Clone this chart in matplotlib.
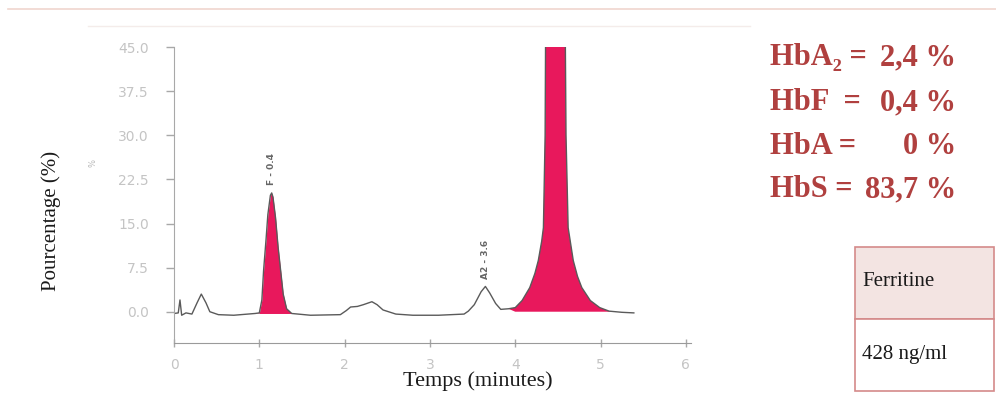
import numpy as np
import matplotlib.pyplot as plt
from matplotlib.patches import Rectangle
from matplotlib.lines import Line2D

# chromatogram trace (time in minutes, signal in %)
time_min = [0.00, 0.05, 0.07, 0.09, 0.14, 0.21, 0.27, 0.32, 0.375, 0.42, 0.52, 0.70, 0.95,
            1.00, 1.03, 1.05, 1.08, 1.10, 1.13, 1.145, 1.16, 1.19, 1.22, 1.25, 1.28, 1.32, 1.38,
            1.60, 1.95, 2.02, 2.07, 2.15, 2.22, 2.32, 2.38, 2.45, 2.60, 2.80, 3.10, 3.40,
            3.45, 3.52, 3.60, 3.65, 3.70, 3.77, 3.83, 3.92, 4.00,
            4.08, 4.17, 4.23, 4.27, 4.31, 4.33, 4.35, 4.36, 4.47, 4.58, 4.595, 4.62, 4.68,
            4.73, 4.78, 4.88, 4.99, 5.10, 5.25, 5.39]
signal_pct = [-0.3, -0.2, 2.0, -0.6, -0.2, -0.4, 1.5, 3.0, 1.5, 0.0, -0.5, -0.6, -0.3,
              -0.2, 2.0, 7.0, 12.5, 16.5, 19.8, 20.2, 19.5, 16.0, 11.0, 7.0, 3.0, 0.5, -0.3,
              -0.6, -0.5, 0.2, 0.8, 0.9, 1.2, 1.7, 1.2, 0.3, -0.4, -0.6, -0.6, -0.4,
              0.1, 1.2, 3.4, 4.3, 3.2, 1.4, 0.4, 0.5, 0.7,
              1.9, 4.1, 6.5, 8.7, 12.0, 14.3, 30.0, 60.0, 84.0, 60.0, 30.0, 14.3, 8.7,
              6.0, 4.1, 1.9, 0.7, 0.1, -0.1, -0.2]

# shaded (red) peaks: start, end, floor
red_start = [1.00, 3.95]
red_end = [1.38, 5.10]
red_floor = [-0.3, 0.0]

# peak annotations from the instrument print-out
peak_lbl = ['F - 0.4', 'A2 - 3.6']
peak_lbl_t = [1.145, 3.65]
peak_lbl_y = [21.6, 5.6]

y_ticks = [0.0, 7.5, 15.0, 22.5, 30.0, 37.5, 45.0]
x_ticks = [0, 1, 2, 3, 4, 5, 6]

hb_names = ['HbA\u2082 =', 'HbF  =', 'HbA =', 'HbS =']
hb_values = ['2,4 %', '0,4 %', '0 %', '83,7 %']

table_head = 'Ferritine'
table_val = '428 ng/ml'

W, H = 996, 393
fig = plt.figure(figsize=(W / 100, H / 100), dpi=100)
ax = fig.add_axes([174 / W, 1 - 343 / H, (691 - 174) / W, (343 - 47.1) / H])

t = np.array(time_min)
s = np.array(signal_pct)
red = '#e8185c'
for a, b, fl in zip(red_start, red_end, red_floor):
    m = (t >= a) & (t <= b)
    ax.fill_between(t, s, fl, where=m, interpolate=True, color=red, lw=0)
ax.plot(t, s, color='#5a5a5a', lw=1.0)

for lbl, lt, ly in zip(peak_lbl, peak_lbl_t, peak_lbl_y):
    ax.text(lt, ly, lbl, rotation=90, ha='center', va='bottom', fontsize=6.5,
            color='#666666', fontweight='bold')

ax.set_xlim(0, 6.06)
ax.set_ylim(-5.32, 45)
ax.set_yticks(y_ticks)
ax.set_yticklabels([f'{v:.1f}' for v in y_ticks])
ax.set_xticks(x_ticks)
ax.set_xticklabels([str(v) for v in x_ticks])
ax.spines['top'].set_visible(False)
ax.spines['right'].set_visible(False)
ax.spines['left'].set_color('#a8a8a8')
ax.spines['bottom'].set_color('#9a9a9a')
ax.tick_params(axis='y', direction='out', length=6, width=1, color='#a8a8a8',
               labelcolor='#c4c4c4', labelsize=10, pad=12)
ax.tick_params(axis='x', direction='inout', length=6, width=1, color='#a8a8a8',
               labelcolor='#c4c4c4', labelsize=10, pad=8)
ax.set_facecolor('white')

serif = ['Liberation Serif', 'DejaVu Serif']
fig.text(478 / W, 1 - 381 / H, 'Temps (minutes)', ha='center', va='center',
         fontsize=16, family=serif, color='#1a1a1a')
fig.text(51 / W, 1 - 221 / H, 'Pourcentage (%)', ha='center', va='center',
         rotation=90, fontsize=15, family=serif, color='#1a1a1a')
fig.text(93 / W, 1 - 163 / H, '%', ha='center', va='center', rotation=90,
         fontsize=6, color='#b8b8b8')

# Hb results block
base_y = [65, 110.5, 153.5, 197]
for nm, val, by in zip(hb_names, hb_values, base_y):
    fig.text(770 / W, 1 - by / H, nm, ha='left', va='baseline', fontsize=22,
             fontweight='bold', family=serif, color='#b0403f')
    fig.text(956 / W, 1 - by / H, val, ha='right', va='baseline', fontsize=22,
             fontweight='bold', family=serif, color='#b0403f')

# ferritine box
bx0, bx1 = 855 / W, 994 / W
ytop, ymid, ybot = 1 - 247 / H, 1 - 319 / H, 1 - 391 / H
fig.add_artist(Rectangle((bx0, ymid), bx1 - bx0, ytop - ymid, transform=fig.transFigure,
                         facecolor='#f3e4e2', edgecolor='#d48a8a', lw=1.2))
fig.add_artist(Rectangle((bx0, ybot), bx1 - bx0, ymid - ybot, transform=fig.transFigure,
                         facecolor='white', edgecolor='#d48a8a', lw=1.2))
fig.text(862 / W, 1 - 281 / H, table_head, ha='left', va='center', fontsize=15,
         family=serif, color='#1a1a1a')
fig.text(862 / W, 1 - 354 / H, table_val, ha='left', va='center', fontsize=15,
         family=serif, color='#1a1a1a')

# faint frame lines at the top
fig.add_artist(Line2D([8 / W, 1], [1 - 9 / H, 1 - 9 / H], color='#f0d6ce', lw=1.2))
fig.add_artist(Line2D([88 / W, 750 / W], [1 - 26 / H, 1 - 26 / H], color='#f4ecea', lw=1.0))

fig.savefig('out.png', dpi=100, facecolor='white')
